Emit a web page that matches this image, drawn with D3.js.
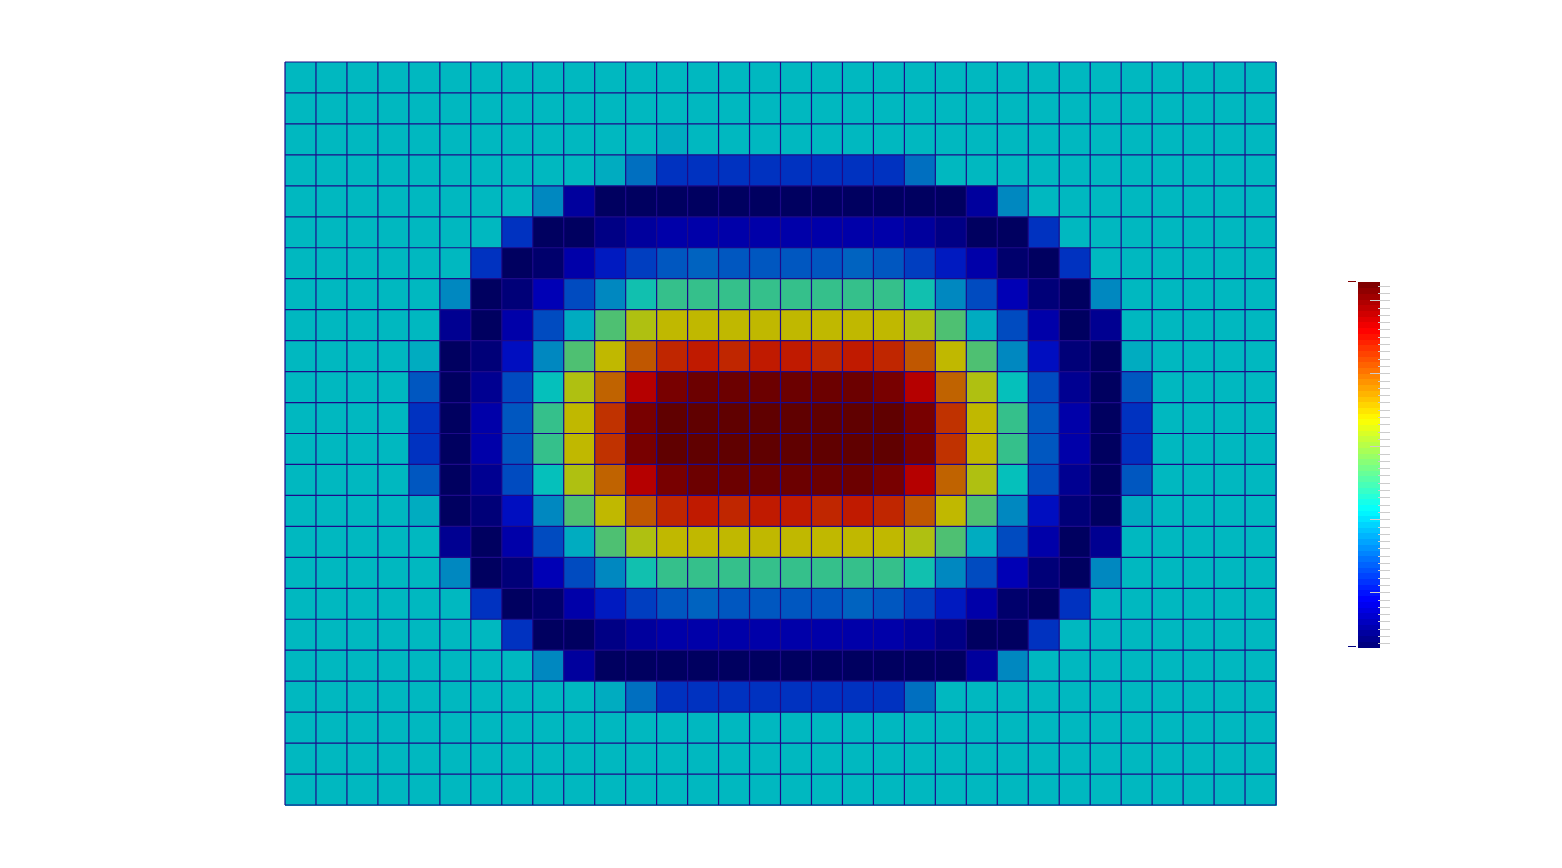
<!DOCTYPE html>
<html>
<head>
<meta charset="utf-8">
<script src="https://cdn.jsdelivr.net/npm/d3@7"></script>
<style>
  html, body { margin: 0; padding: 0; background: #ffffff; }
  svg { display: block; }
</style>
</head>
<body>
<svg id="chart" width="1562" height="868"></svg>
<script>
// ---------------- data ----------------
const xCategories = [0,1,2,3,4,5,6,7,8,9,10,11,12,13,14,15,16,17,18,19,20,21,22,23,24,25,26,27,28,29,30,31];
const yCategories = [0,1,2,3,4,5,6,7,8,9,10,11,12,13,14,15,16,17,18,19,20,21,22,23];

// value range of the colour scale
const valueMin = -0.35;
const valueMax = 0.65;

// cell values, one row per y category (top to bottom), one value per x category
const row00 = [0.015,0.015,0.015,0.015,0.015,0.015,0.015,0.015,0.015,0.015,0.015,0.015,0.015,0.015,0.015,0.015,0.015,0.015,0.015,0.015,0.015,0.015,0.015,0.015,0.015,0.015,0.015,0.015,0.015,0.015,0.015,0.015];
const row01 = [0.015,0.015,0.015,0.015,0.015,0.015,0.015,0.015,0.015,0.015,0.015,0.015,0.015,0.015,0.015,0.015,0.015,0.015,0.015,0.015,0.015,0.015,0.015,0.015,0.015,0.015,0.015,0.015,0.015,0.015,0.015,0.015];
const row02 = [0.015,0.015,0.015,0.015,0.015,0.015,0.015,0.015,0.015,0.015,0.015,0.015,0.005,0.015,0.015,0.015,0.015,0.015,0.015,0.015,0.015,0.015,0.015,0.015,0.015,0.015,0.015,0.015,0.015,0.015,0.015,0.015];
const row03 = [0.015,0.015,0.015,0.015,0.015,0.015,0.015,0.015,0.015,0.015,0.005,-0.08,-0.15,-0.16,-0.16,-0.15,-0.15,-0.16,-0.16,-0.15,-0.08,0.015,0.015,0.015,0.015,0.015,0.015,0.015,0.015,0.015,0.015,0.015];
const row04 = [0.015,0.015,0.015,0.015,0.015,0.015,0.015,0.015,-0.038,-0.265,-0.35,-0.345,-0.34,-0.34,-0.34,-0.34,-0.34,-0.34,-0.34,-0.34,-0.345,-0.35,-0.265,-0.038,0.015,0.015,0.015,0.015,0.015,0.015,0.015,0.015];
const row05 = [0.015,0.015,0.015,0.015,0.015,0.015,0.015,-0.15,-0.35,-0.34,-0.29,-0.265,-0.245,-0.255,-0.245,-0.245,-0.245,-0.245,-0.255,-0.245,-0.265,-0.29,-0.34,-0.35,-0.15,0.015,0.015,0.015,0.015,0.015,0.015,0.015];
const row06 = [0.015,0.015,0.015,0.015,0.015,0.015,-0.15,-0.35,-0.325,-0.255,-0.19,-0.14,-0.10,-0.09,-0.10,-0.10,-0.10,-0.10,-0.09,-0.10,-0.14,-0.19,-0.255,-0.325,-0.35,-0.15,0.015,0.015,0.015,0.015,0.015,0.015];
const row07 = [0.015,0.015,0.015,0.015,0.015,-0.038,-0.35,-0.315,-0.24,-0.12,-0.038,0.05,0.10,0.10,0.09,0.09,0.09,0.09,0.10,0.10,0.05,-0.038,-0.12,-0.24,-0.315,-0.35,-0.038,0.015,0.015,0.015,0.015,0.015];
const row08 = [0.015,0.015,0.015,0.015,0.015,-0.28,-0.35,-0.245,-0.13,0.0,0.13,0.245,0.275,0.275,0.29,0.285,0.285,0.29,0.275,0.275,0.245,0.13,0.0,-0.13,-0.245,-0.35,-0.28,0.015,0.015,0.015,0.015,0.015];
const row09 = [0.015,0.015,0.015,0.015,-0.005,-0.35,-0.315,-0.20,-0.038,0.13,0.275,0.40,0.47,0.49,0.47,0.48,0.48,0.47,0.49,0.47,0.40,0.275,0.13,-0.038,-0.20,-0.315,-0.35,-0.005,0.015,0.015,0.015,0.015];
const row10 = [0.015,0.015,0.015,0.015,-0.10,-0.35,-0.28,-0.13,0.04,0.245,0.395,0.525,0.608,0.619,0.619,0.63,0.63,0.619,0.619,0.608,0.525,0.395,0.245,0.04,-0.13,-0.28,-0.35,-0.10,0.015,0.015,0.015,0.015];
const row11 = [0.015,0.015,0.015,0.015,-0.15,-0.35,-0.255,-0.10,0.09,0.275,0.46,0.608,0.65,0.65,0.64,0.65,0.65,0.64,0.65,0.65,0.608,0.46,0.275,0.09,-0.10,-0.255,-0.35,-0.15,0.015,0.015,0.015,0.015];
const row12 = [0.015,0.015,0.015,0.015,-0.15,-0.35,-0.255,-0.10,0.09,0.275,0.46,0.608,0.65,0.65,0.64,0.65,0.65,0.64,0.65,0.65,0.608,0.46,0.275,0.09,-0.10,-0.255,-0.35,-0.15,0.015,0.015,0.015,0.015];
const row13 = [0.015,0.015,0.015,0.015,-0.10,-0.35,-0.28,-0.13,0.04,0.245,0.395,0.525,0.608,0.619,0.619,0.63,0.63,0.619,0.619,0.608,0.525,0.395,0.245,0.04,-0.13,-0.28,-0.35,-0.10,0.015,0.015,0.015,0.015];
const row14 = [0.015,0.015,0.015,0.015,-0.005,-0.35,-0.315,-0.20,-0.038,0.13,0.275,0.40,0.47,0.49,0.47,0.48,0.48,0.47,0.49,0.47,0.40,0.275,0.13,-0.038,-0.20,-0.315,-0.35,-0.005,0.015,0.015,0.015,0.015];
const row15 = [0.015,0.015,0.015,0.015,0.015,-0.28,-0.35,-0.245,-0.13,0.0,0.13,0.245,0.275,0.275,0.29,0.285,0.285,0.29,0.275,0.275,0.245,0.13,0.0,-0.13,-0.245,-0.35,-0.28,0.015,0.015,0.015,0.015,0.015];
const row16 = [0.015,0.015,0.015,0.015,0.015,-0.038,-0.35,-0.315,-0.24,-0.12,-0.038,0.05,0.10,0.10,0.09,0.09,0.09,0.09,0.10,0.10,0.05,-0.038,-0.12,-0.24,-0.315,-0.35,-0.038,0.015,0.015,0.015,0.015,0.015];
const row17 = [0.015,0.015,0.015,0.015,0.015,0.015,-0.15,-0.35,-0.325,-0.255,-0.19,-0.14,-0.10,-0.09,-0.10,-0.10,-0.10,-0.10,-0.09,-0.10,-0.14,-0.19,-0.255,-0.325,-0.35,-0.15,0.015,0.015,0.015,0.015,0.015,0.015];
const row18 = [0.015,0.015,0.015,0.015,0.015,0.015,0.015,-0.15,-0.35,-0.34,-0.29,-0.265,-0.245,-0.255,-0.245,-0.245,-0.245,-0.245,-0.255,-0.245,-0.265,-0.29,-0.34,-0.35,-0.15,0.015,0.015,0.015,0.015,0.015,0.015,0.015];
const row19 = [0.015,0.015,0.015,0.015,0.015,0.015,0.015,0.015,-0.038,-0.265,-0.35,-0.345,-0.34,-0.34,-0.34,-0.34,-0.34,-0.34,-0.34,-0.34,-0.345,-0.35,-0.265,-0.038,0.015,0.015,0.015,0.015,0.015,0.015,0.015,0.015];
const row20 = [0.015,0.015,0.015,0.015,0.015,0.015,0.015,0.015,0.015,0.015,0.005,-0.08,-0.15,-0.16,-0.16,-0.15,-0.15,-0.16,-0.16,-0.15,-0.08,0.015,0.015,0.015,0.015,0.015,0.015,0.015,0.015,0.015,0.015,0.015];
const row21 = [0.015,0.015,0.015,0.015,0.015,0.015,0.015,0.015,0.015,0.015,0.015,0.015,0.015,0.015,0.015,0.015,0.015,0.015,0.015,0.015,0.015,0.015,0.015,0.015,0.015,0.015,0.015,0.015,0.015,0.015,0.015,0.015];
const row22 = [0.015,0.015,0.015,0.015,0.015,0.015,0.015,0.015,0.015,0.015,0.015,0.015,0.015,0.015,0.015,0.015,0.015,0.015,0.015,0.015,0.015,0.015,0.015,0.015,0.015,0.015,0.015,0.015,0.015,0.015,0.015,0.015];
const row23 = [0.015,0.015,0.015,0.015,0.015,0.015,0.015,0.015,0.015,0.015,0.015,0.015,0.015,0.015,0.015,0.015,0.015,0.015,0.015,0.015,0.015,0.015,0.015,0.015,0.015,0.015,0.015,0.015,0.015,0.015,0.015,0.015];
const values = [row00,row01,row02,row03,row04,row05,row06,row07,row08,row09,row10,row11,
                row12,row13,row14,row15,row16,row17,row18,row19,row20,row21,row22,row23];

// colour bar ticks (no labels are shown)
const colorbarMajorTicks = [-0.2, 0.0, 0.2, 0.4, 0.6];
const colorbarMinorStep = 0.02;
const colorLevels = 64;

// ---------------- drawing ----------------
const svg = d3.select("#chart");

function jet(t) {
  const c = v => Math.max(0, Math.min(1, v));
  return [c(1.5 - Math.abs(4 * t - 3)), c(1.5 - Math.abs(4 * t - 2)), c(1.5 - Math.abs(4 * t - 1))];
}
const norm = d3.scaleLinear().domain([valueMin, valueMax]).range([0, 1]).clamp(true);
function levelOf(v) { return Math.min(colorLevels - 1, Math.floor(norm(v) * colorLevels)); }
function levelColor(level, shade) {
  const [r, g, b] = jet(level / (colorLevels - 1));
  return d3.rgb(r * 255 * shade, g * 255 * shade, b * 255 * shade).toString();
}

const plot = { left: 285, top: 62, right: 1276, bottom: 805 };
const x = d3.scaleBand().domain(xCategories).range([plot.left, plot.right]).padding(0);
const y = d3.scaleBand().domain(yCategories).range([plot.top, plot.bottom]).padding(0);

const cells = [];
values.forEach((row, ri) => row.forEach((v, ci) => cells.push({ r: yCategories[ri], c: xCategories[ci], v })));

const gridColor = "#1c0a8a";
const cellShade = 0.753;

svg.append("g")
  .attr("shape-rendering", "crispEdges")
  .selectAll("rect")
  .data(cells)
  .join("rect")
  .attr("x", d => x(d.c))
  .attr("y", d => y(d.r))
  .attr("width", x.bandwidth() + 0.5)
  .attr("height", y.bandwidth() + 0.5)
  .attr("fill", d => levelColor(levelOf(d.v), cellShade));

// grid lines
const gl = svg.append("g").attr("stroke", gridColor).attr("stroke-width", 1.2).attr("fill", "none");
xCategories.concat([null]).forEach((c, i) => {
  const xx = c === null ? plot.right : x(c);
  gl.append("line").attr("x1", xx).attr("x2", xx).attr("y1", plot.top).attr("y2", plot.bottom);
});
yCategories.concat([null]).forEach((r, i) => {
  const yy = r === null ? plot.bottom : y(r);
  gl.append("line").attr("y1", yy).attr("y2", yy).attr("x1", plot.left).attr("x2", plot.right);
});

// colour bar
const cb = { left: 1358, width: 22, top: 282, bottom: 647 };
const cbY = d3.scaleLinear().domain([valueMin, valueMax]).range([cb.bottom, cb.top]);
const levels = d3.range(colorLevels);
const levelH = (cb.bottom - cb.top) / colorLevels;
svg.append("g")
  .attr("shape-rendering", "crispEdges")
  .selectAll("rect")
  .data(levels)
  .join("rect")
  .attr("x", cb.left)
  .attr("width", cb.width)
  .attr("y", d => cbY(valueMin + (d + 1) * (valueMax - valueMin) / colorLevels))
  .attr("height", levelH + 0.5)
  .attr("fill", d => levelColor(d, 1));

// min / max markers to the left of the colour bar
svg.append("line").attr("x1", cb.left - 10).attr("x2", cb.left - 2)
  .attr("y1", cbY(valueMax) - 0.5).attr("y2", cbY(valueMax) - 0.5)
  .attr("stroke", levelColor(colorLevels - 1, 1)).attr("stroke-width", 1);
svg.append("line").attr("x1", cb.left - 10).attr("x2", cb.left - 2)
  .attr("y1", cbY(valueMin) - 0.5).attr("y2", cbY(valueMin) - 0.5)
  .attr("stroke", levelColor(0, 1)).attr("stroke-width", 1);

// ticks on the right side of the colour bar
const minorTicks = d3.range(valueMin + colorbarMinorStep / 2, valueMax, colorbarMinorStep)
  .filter(v => !colorbarMajorTicks.some(m => Math.abs(m - v) < 1e-6));
const tickG = svg.append("g").attr("stroke", "#cccccc").attr("stroke-width", 1).attr("shape-rendering", "crispEdges");
tickG.selectAll("line.minor").data(minorTicks).join("line")
  .attr("class", "minor")
  .attr("x1", cb.left + cb.width - 2).attr("x2", cb.left + cb.width + 10)
  .attr("y1", d => Math.round(cbY(d)) + 0.5).attr("y2", d => Math.round(cbY(d)) + 0.5);
tickG.selectAll("line.major").data(colorbarMajorTicks).join("line")
  .attr("class", "major")
  .attr("x1", cb.left + cb.width - 10).attr("x2", cb.left + cb.width + 10)
  .attr("y1", d => Math.round(cbY(d)) + 0.5).attr("y2", d => Math.round(cbY(d)) + 0.5);
</script>
</body>
</html>
